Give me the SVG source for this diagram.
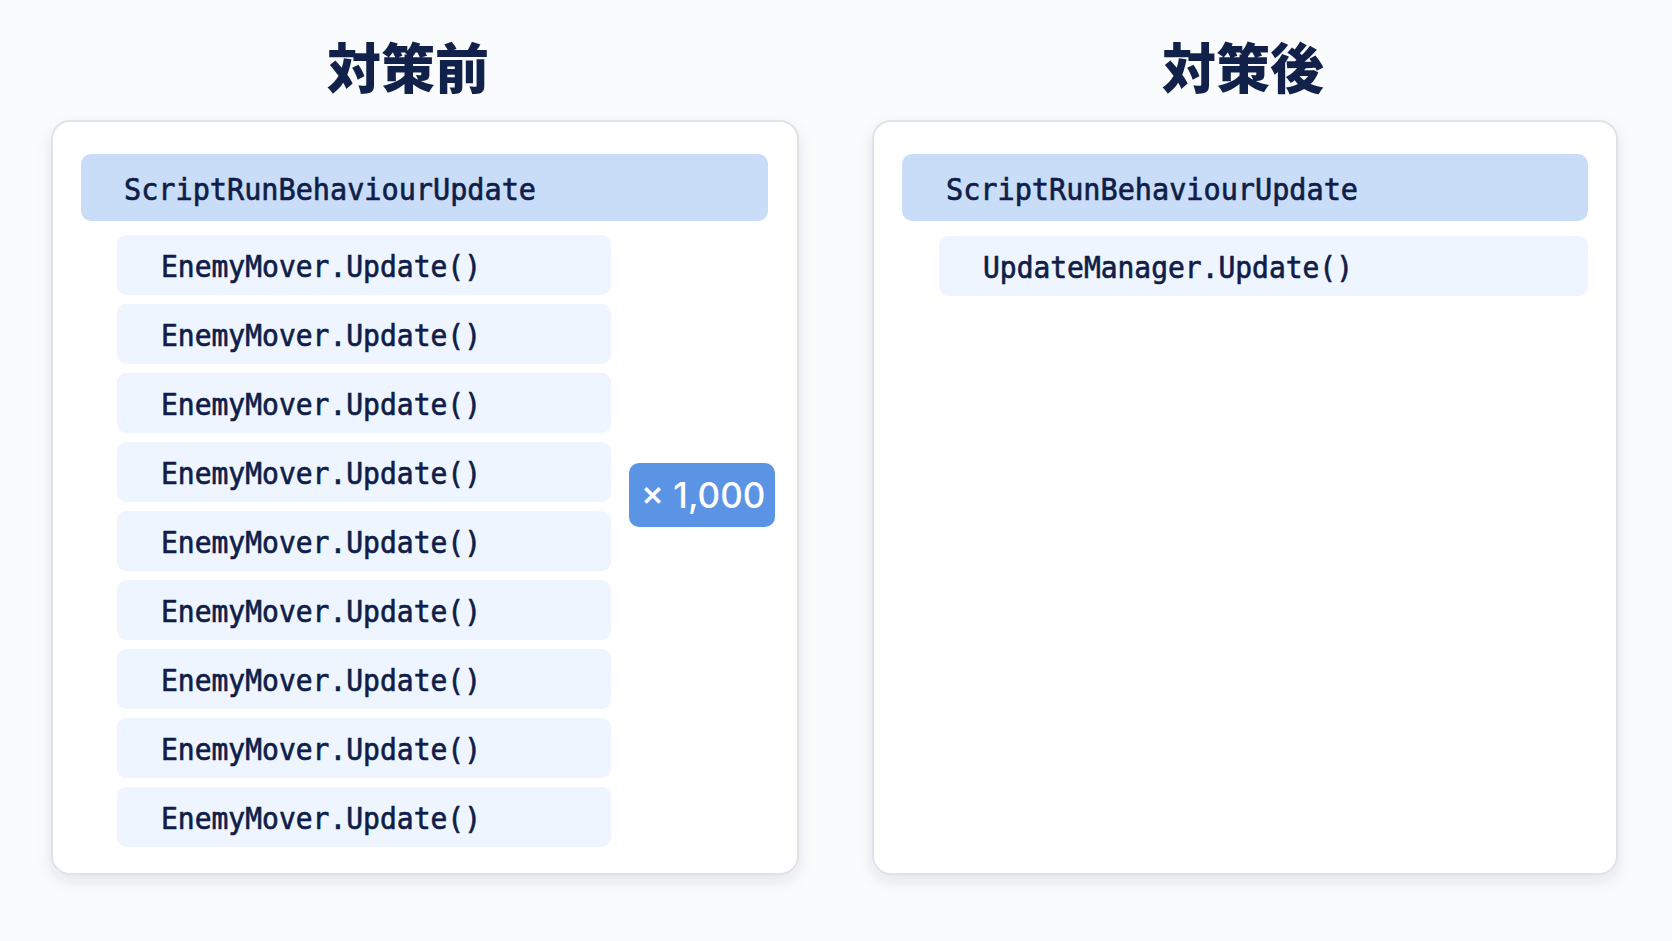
<svg xmlns="http://www.w3.org/2000/svg" width="1672" height="941" viewBox="0 0 1672 941">
<defs>
<filter id="sh" x="-5%" y="-5%" width="110%" height="112%">
<feDropShadow dx="0" dy="6" stdDeviation="7" flood-color="#1c2a4a" flood-opacity="0.10"/>
</filter>
<style>
.title{font-family:"Noto Sans CJK JP","Noto Sans CJK SC",sans-serif;font-weight:900;font-size:54px;fill:#12214a;text-anchor:middle}
.panel{fill:#ffffff;stroke:#dfe3e8;stroke-width:2}
.hdr{fill:#c9ddf8}
.row{fill:#eef5fe}
.code{font-family:"DejaVu Sans Mono","Liberation Mono",monospace;font-size:31px;fill:#101d48;stroke:#101d48;stroke-width:0.7}
.badge{fill:#5b94e5}
.btxt{font-family:Inter,Roboto,"Liberation Sans",sans-serif;font-weight:500;font-size:35px;fill:#ffffff;text-anchor:middle}
</style>
</defs>
<rect width="1672" height="941" fill="#fafbfc"/>
<g id="title-before"><text class="title" x="408" y="89">対策前</text></g>
<g id="title-after"><text class="title" x="1243" y="89">対策後</text></g>
<g id="panel-before"><rect class="panel" x="52" y="121" width="746" height="753" rx="18" filter="url(#sh)"/></g>
<g id="panel-after"><rect class="panel" x="873" y="121" width="744" height="753" rx="18" filter="url(#sh)"/></g>
<g id="before-header"><rect class="hdr" x="81" y="154" width="687" height="67" rx="10"/><text class="code" x="124" y="200" textLength="412" lengthAdjust="spacingAndGlyphs">ScriptRunBehaviourUpdate</text></g>
<g id="before-row1"><rect class="row" x="117" y="235" width="494" height="60" rx="9"/><text class="code" x="161" y="277" textLength="320" lengthAdjust="spacingAndGlyphs">EnemyMover.Update()</text></g>
<g id="before-row2"><rect class="row" x="117" y="304" width="494" height="60" rx="9"/><text class="code" x="161" y="346" textLength="320" lengthAdjust="spacingAndGlyphs">EnemyMover.Update()</text></g>
<g id="before-row3"><rect class="row" x="117" y="373" width="494" height="60" rx="9"/><text class="code" x="161" y="415" textLength="320" lengthAdjust="spacingAndGlyphs">EnemyMover.Update()</text></g>
<g id="before-row4"><rect class="row" x="117" y="442" width="494" height="60" rx="9"/><text class="code" x="161" y="484" textLength="320" lengthAdjust="spacingAndGlyphs">EnemyMover.Update()</text></g>
<g id="before-row5"><rect class="row" x="117" y="511" width="494" height="60" rx="9"/><text class="code" x="161" y="553" textLength="320" lengthAdjust="spacingAndGlyphs">EnemyMover.Update()</text></g>
<g id="before-row6"><rect class="row" x="117" y="580" width="494" height="60" rx="9"/><text class="code" x="161" y="622" textLength="320" lengthAdjust="spacingAndGlyphs">EnemyMover.Update()</text></g>
<g id="before-row7"><rect class="row" x="117" y="649" width="494" height="60" rx="9"/><text class="code" x="161" y="691" textLength="320" lengthAdjust="spacingAndGlyphs">EnemyMover.Update()</text></g>
<g id="before-row8"><rect class="row" x="117" y="718" width="494" height="60" rx="9"/><text class="code" x="161" y="760" textLength="320" lengthAdjust="spacingAndGlyphs">EnemyMover.Update()</text></g>
<g id="before-row9"><rect class="row" x="117" y="787" width="494" height="60" rx="9"/><text class="code" x="161" y="829" textLength="320" lengthAdjust="spacingAndGlyphs">EnemyMover.Update()</text></g>
<g id="badge"><rect class="badge" x="629" y="463" width="146" height="64" rx="10"/><text class="btxt" x="703" y="508">× 1,000</text></g>
<g id="after-header"><rect class="hdr" x="902" y="154" width="686" height="67" rx="10"/><text class="code" x="946" y="200" textLength="412" lengthAdjust="spacingAndGlyphs">ScriptRunBehaviourUpdate</text></g>
<g id="after-row1"><rect class="row" x="939" y="236" width="649" height="60" rx="9"/><text class="code" x="983" y="278" textLength="370" lengthAdjust="spacingAndGlyphs">UpdateManager.Update()</text></g>
<g id="connectors"></g>
</svg>
